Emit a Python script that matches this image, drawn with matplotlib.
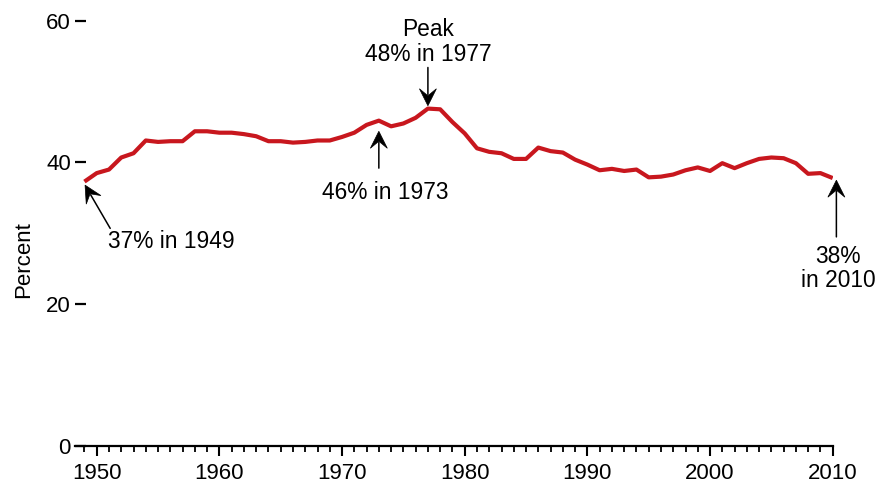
import matplotlib
matplotlib.use("Agg")
import matplotlib.pyplot as plt
from matplotlib.ticker import MultipleLocator, FixedLocator
from matplotlib.patches import Polygon
from matplotlib.transforms import ScaledTranslation
import numpy as np

plt.rcParams['font.family'] = ['Liberation Sans', 'DejaVu Sans']

years = list(range(1949, 2011))
percent = [37.3, 38.5, 39.0, 40.7, 41.3, 43.1, 42.9, 43.0, 43.0, 44.4,
           44.4, 44.2, 44.2, 44.0, 43.7, 43.0, 43.0, 42.8, 42.9, 43.1,
           43.1, 43.6, 44.2, 45.3, 45.9, 45.1, 45.5, 46.3, 47.6, 47.5,
           45.7, 44.1, 42.0, 41.5, 41.3, 40.5, 40.5, 42.1, 41.6, 41.4,
           40.4, 39.7, 38.9, 39.1, 38.8, 39.0, 37.9, 38.0, 38.3, 38.9,
           39.3, 38.8, 39.9, 39.2, 39.9, 40.5, 40.7, 40.6, 39.9, 38.4,
           38.5, 37.8]
y_ticks = [0, 20, 40, 60]
x_ticks = [1950, 1960, 1970, 1980, 1990, 2000, 2010]

fig = plt.figure(figsize=(8.81, 4.84), dpi=100)
ax = fig.add_axes([75/881, 1-446/484, (832.7-75)/881, (446-20.7)/484])

ax.plot(years, percent, color='#C8171E', lw=3.0, solid_capstyle='butt',
        solid_joinstyle='round', zorder=3)

ax.set_xlim(1948.23, 2010)
ax.set_ylim(0, 60)

for s in ['top', 'right', 'left']:
    ax.spines[s].set_visible(False)
ax.spines['bottom'].set_linewidth(1.6)

ax.xaxis.set_major_locator(FixedLocator(x_ticks))
ax.xaxis.set_minor_locator(MultipleLocator(1))
ax.set_yticks(y_ticks)
ax.tick_params(axis='x', which='major', direction='out', length=7.2, width=1.5,
               labelsize=16, pad=5)
ax.tick_params(axis='x', which='minor', direction='out', length=4.2, width=1.3)
ax.tick_params(axis='y', which='major', direction='in', length=8, width=1.6,
               labelsize=16, pad=3)
ax.set_ylabel('Percent', fontsize=16, va='center')
ax.yaxis.set_label_coords((24 - 75) / 757.7, (446 - 260) / 425.3)

fig.canvas.draw()

def arrow(tail, tip):
    ax.annotate('', xy=tip, xytext=tail, annotation_clip=False,
                arrowprops=dict(arrowstyle='-', lw=1.1, color='black',
                                shrinkA=0, shrinkB=8), zorder=4)
    p_tip = ax.transData.transform(tip)
    p_tail = ax.transData.transform(tail)
    d = p_tail - p_tip
    d = d / np.hypot(*d)
    n = np.array([-d[1], d[0]])
    L, W, notch = 17.0, 8.5, 10.0  # pixels
    verts_px = [np.zeros(2), d * L + n * W, d * notch, d * L - n * W]
    verts_in = [v / fig.dpi for v in verts_px]
    trans = fig.dpi_scale_trans + ScaledTranslation(tip[0], tip[1], ax.transData)
    poly = Polygon(verts_in, closed=True, facecolor='black', edgecolor='black',
                   lw=0.5, transform=trans, clip_on=False, zorder=5)
    ax.add_patch(poly)

fs = 16.4
# Peak 1977
ax.text(1977, 60.4, 'Peak\n48% in 1977', ha='center', va='top', fontsize=fs,
        linespacing=1.1)
arrow((1977, 53.4), (1977, 48.0))
# 1973
ax.text(1973.5, 37.4, '46% in 1973', ha='center', va='top', fontsize=fs)
arrow((1973, 39.2), (1973, 44.4))
# 1949
ax.text(1950.9, 30.5, '37% in 1949', ha='left', va='top', fontsize=fs)
arrow((1951.1, 30.7), (1949.05, 36.8))
# 2010
ax.text(2010.45, 28.4, '38%\nin 2010', ha='center', va='top', fontsize=fs,
        linespacing=1.1)
arrow((2010.3, 29.5), (2010.3, 37.5))

fig.savefig('out.png', dpi=100)
